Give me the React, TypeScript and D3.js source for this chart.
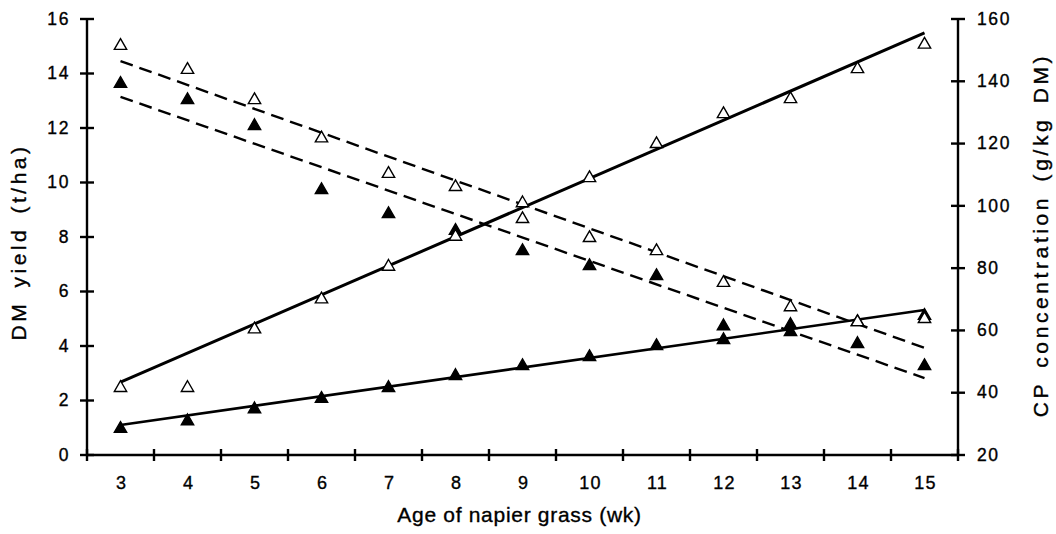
import React from 'react';
import * as d3 from 'd3';

// weeks of regrowth
const weeks = [3, 4, 5, 6, 7, 8, 9, 10, 11, 12, 13, 14, 15];

// DM yield (t/ha), left axis
const dmOpen = [2.5, 2.5, 4.65, 5.75, 6.95, 8.05, 9.28, 10.2, 11.45, 12.55, 13.1, 14.2, 15.1];
const dmFilled = [1.0, 1.28, 1.72, 2.1, 2.5, 2.94, 3.3, 3.63, 4.04, 4.26, 4.55, 4.92, 5.15];

// CP concentration (g/kg DM), right axis
const cpOpen = [151.7, 144, 134.3, 122, 110.6, 106.4, 96.1, 90, 85.8, 75.6, 67.8, 63, 64];
const cpFilled = [139.5, 134.3, 126, 105.4, 97.7, 92.3, 85.8, 81, 77.8, 61.7, 62.1, 56, 48.9];

// fitted lines, values at first and last week
const fitWeeks = [3, 15];
const dmOpenFit = [2.67, 15.49];
const dmFilledFit = [1.1, 5.32];
const cpOpenFit = [146.5, 54.4];
const cpFilledFit = [135, 44.7];

const leftTicks = [0, 2, 4, 6, 8, 10, 12, 14, 16];
const rightTicks = [20, 40, 60, 80, 100, 120, 140, 160];

const W = 1056, H = 534;
const left = 87, right = 958, top = 19, bottom = 455;
const font = '"Liberation Sans", Arial, Helvetica, sans-serif';

export default function App() {
    const x = d3.scaleBand<number>().domain(weeks).range([left, right]);
    const cx = (w: number) => (x(w) as number) + x.bandwidth() / 2;
    const yL = d3.scaleLinear().domain([0, 16]).range([bottom, top]);
    const yR = d3.scaleLinear().domain([20, 160]).range([bottom, top]);

    const tri = d3.symbol(d3.symbolTriangle).size(66)() as string;

    const fitLine = (vals: number[], y: d3.ScaleLinear<number, number>) =>
        d3.line<number>().x((w) => cx(w)).y((w, i) => y(vals[i]))(fitWeeks) as string;

    // tick positions at band edges
    const xEdges = weeks.map((w) => x(w) as number).concat([right]);

    const markers = (vals: number[], y: d3.ScaleLinear<number, number>, filled: boolean) =>
        weeks.map((w, i) => (
            <path key={w} d={tri} transform={`translate(${cx(w)},${y(vals[i]) + 1})`}
                fill={filled ? '#000' : '#fff'} stroke="#000" strokeWidth={1.4} />
        ));

    return (
        <svg width={W} height={H} style={{position: 'absolute', left: 0, top: 0, background: '#fff'}}
            fontFamily={font}>
            {/* fitted lines */}
            <path d={fitLine(dmOpenFit, yL)} stroke="#000" strokeWidth={3} fill="none" />
            <path d={fitLine(dmFilledFit, yL)} stroke="#000" strokeWidth={2.6} fill="none" />
            <path d={fitLine(cpOpenFit, yR)} stroke="#000" strokeWidth={2.4} fill="none" strokeDasharray="13,7" />
            <path d={fitLine(cpFilledFit, yR)} stroke="#000" strokeWidth={2.4} fill="none" strokeDasharray="13,7" />

            {/* points */}
            {markers(dmFilled, yL, true)}
            {markers(cpFilled, yR, true)}
            {markers(dmOpen, yL, false)}
            {markers(cpOpen, yR, false)}

            {/* axes */}
            <g stroke="#000" strokeWidth={2.4}>
                <line x1={left} x2={left} y1={top} y2={bottom + 1} />
                <line x1={right} x2={right} y1={top} y2={bottom + 1} />
                <line x1={left} x2={right} y1={bottom} y2={bottom} />
                {leftTicks.map((t) => (
                    <line key={'l' + t} x1={left - 7} x2={left + 7} y1={yL(t)} y2={yL(t)} />
                ))}
                {rightTicks.map((t) => (
                    <line key={'r' + t} x1={right - 7} x2={right + 7} y1={yR(t)} y2={yR(t)} />
                ))}
                {xEdges.map((e, i) => (
                    <line key={'x' + i} x1={e} x2={e} y1={bottom - 6} y2={bottom + 6} />
                ))}
            </g>

            {/* tick labels */}
            <g fontSize={17.5} letterSpacing={1.6} fill="#000" stroke="#000" strokeWidth={0.35}>
                {leftTicks.map((t) => (
                    <text key={'lt' + t} x={70} y={yL(t)} dy="0.33em" textAnchor="end">{t}</text>
                ))}
                {rightTicks.map((t) => (
                    <text key={'rt' + t} x={977} y={yR(t)} dy="0.33em" textAnchor="start">{t}</text>
                ))}
                {weeks.map((w) => (
                    <text key={'xt' + w} x={cx(w) + 1} y={489} textAnchor="middle" fontSize={18}
                        letterSpacing={1.2}>{w}</text>
                ))}
            </g>

            {/* titles */}
            <g fill="#000" stroke="#000" strokeWidth={0.35} fontSize={21}>
                <text x={(left + right) / 2 - 3} y={522} letterSpacing={0.7} textAnchor="middle">
                    Age of napier grass (wk)
                </text>
                <text transform="translate(26,242) rotate(-90)" letterSpacing={3.5}
                    wordSpacing={4} textAnchor="middle">
                    DM yield (t/ha)
                </text>
                <text transform="translate(1048,235) rotate(-90)" letterSpacing={3.6}
                    wordSpacing={4} textAnchor="middle">
                    CP concentration (g/kg DM)
                </text>
            </g>
        </svg>
    );
}
